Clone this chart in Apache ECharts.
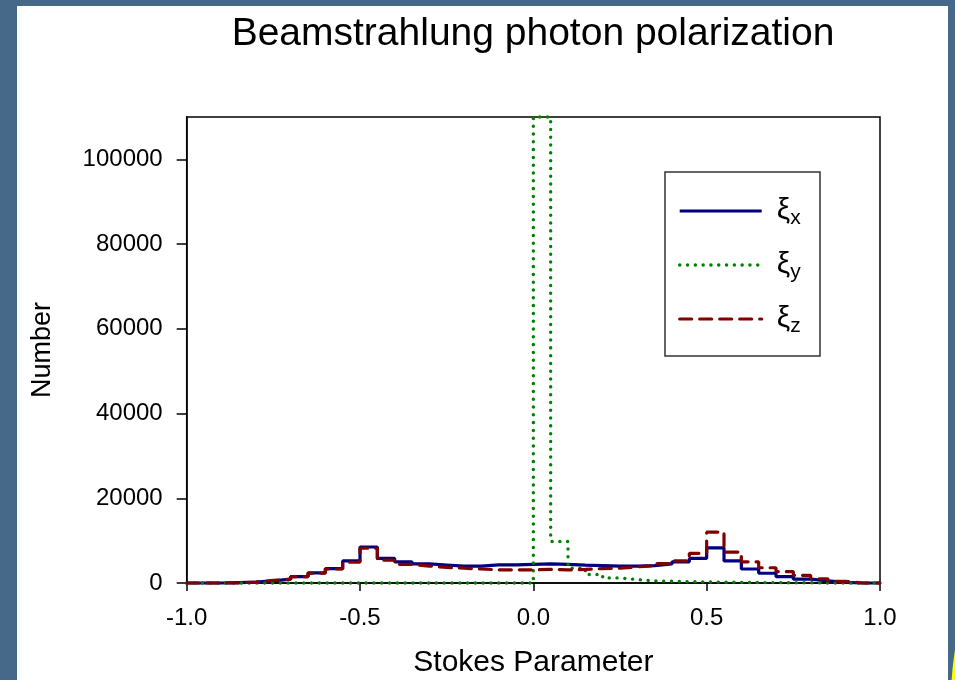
<!DOCTYPE html>
<html><head><meta charset="utf-8">
<script src="https://cdn.jsdelivr.net/npm/echarts@6/dist/echarts.min.js"></script>
<style>html,body{margin:0;padding:0;background:#46698a;overflow:hidden;} #c{width:955px;height:680px;}</style>
</head><body><div id="c"></div>
<script>
// Bin edges of the histogram (Stokes parameter)
const binEdges = [-1.00,-0.95,-0.90,-0.85,-0.80,-0.75,-0.70,-0.65,-0.60,-0.55,
                  -0.50,-0.45,-0.40,-0.35,-0.30,-0.25,-0.20,-0.15,-0.10,-0.05,
                   0.00, 0.05, 0.10, 0.15, 0.20, 0.25, 0.30, 0.35, 0.40, 0.45,
                   0.50, 0.55, 0.60, 0.65, 0.70, 0.75, 0.80, 0.85, 0.90, 0.95, 1.00];
// Counts per bin (40 bins)
const xiX = [0,0,100,200,500,900,1500,2400,3400,5200,
             8500,5800,5000,4500,4250,4000,4000,4300,4300,4400,
             4500,4400,4200,4100,4000,4000,4100,4500,5000,5800,
             8300,5200,3300,2300,1500,900,500,150,0,0];
const xiY = [0,0,0,0,0,0,0,0,0,0,
             0,0,0,0,0,0,0,0,0,0,
             110000,9800,3500,2000,1200,800,500,400,300,250,
             200,150,100,100,50,50,0,0,0,0];
const xiZ = [0,0,50,200,600,900,1500,2300,3300,4900,
             8200,5400,4400,4000,3700,3500,3300,3100,3100,3100,
             3200,3100,3200,3400,3500,3800,4100,4600,5200,7000,
             12000,7300,5000,3600,2700,1800,1000,400,0,0];
const seriesNames = ['ξx','ξy','ξz'];
const seriesColors = ['#000080','#008000','#800000'];
const xTicks = [-1.0,-0.5,0.0,0.5,1.0];
const yTicks = [0,20000,40000,60000,80000,100000];
const titleText = 'Beamstrahlung photon polarization';
const xTitle = 'Stokes Parameter';
const yTitle = 'Number';

function stepData(vals){
  const d = vals.map((v,i)=>[binEdges[i], v]);
  d.push([binEdges[binEdges.length-1], vals[vals.length-1]]);
  return d;
}
const FF = '"Liberation Sans", Arial, sans-serif';
const chart = echarts.init(document.getElementById('c'), null, {renderer:'canvas'});
const lineTypes = [
  {width:3.2, type:'solid'},
  {width:3.4, type:[0.1,7.7], cap:'round'},
  {width:3.2, type:[12,8], cap:'round'}
];
const allVals = [xiX, xiY, xiZ];
chart.setOption({
  backgroundColor:'#46698a',
  animation:false,
  graphic:[
    {type:'rect', z:-10, shape:{x:17,y:6,width:931,height:690}, style:{fill:'#ffffff'}},
    {type:'circle', z:-10, shape:{cx:1265.5,cy:700,r:314.5}, style:{fill:'#ffff00'}},
    {type:'rect', z:1, shape:{x:665,y:172,width:155,height:184}, style:{fill:'#ffffff', stroke:'#333333', lineWidth:1.5}},
    {type:'text', z:5, x:533, y:15, style:{text:titleText, font:'39px '+FF, fill:'#000', textAlign:'center'}}
  ],
  grid:{left:186.7, right:75, top:117, bottom:97, outerBoundsMode:'none', containLabel:false,
        show:true, borderColor:'#000', borderWidth:1.5, backgroundColor:'transparent'},
  legend:{
    orient:'vertical', left:678, top:196, padding:0, itemWidth:82, itemHeight:36, itemGap:21,
    z:10,
    data:seriesNames.map((n,i)=>({name:n, lineStyle:Object.assign({color:seriesColors[i]}, lineTypes[i])})),
    itemStyle:{opacity:0, borderWidth:0},
    formatter:(n)=>'{a|ξ}{b|'+n.slice(1)+'}',
    textStyle:{fontFamily:FF, color:'#000',
      rich:{
        a:{fontSize:30, fontFamily:FF, color:'#000', lineHeight:36, padding:[0,0,0,10]},
        b:{fontSize:21, fontFamily:FF, color:'#000', lineHeight:21, verticalAlign:'bottom'}
      }}
  },
  xAxis:{
    type:'value', min:-1, max:1, interval:0.5,
    name:xTitle, nameLocation:'middle', nameGap:65,
    nameTextStyle:{fontFamily:FF, fontSize:30, color:'#000'},
    axisLine:{show:true, onZero:false, lineStyle:{color:'#000', width:1.5}},
    axisTick:{show:true, inside:false, length:8, lineStyle:{color:'#000', width:1.5}},
    axisLabel:{fontFamily:FF, fontSize:24, color:'#000', margin:23, formatter:(v)=>v.toFixed(1)},
    splitLine:{show:false}
  },
  yAxis:{
    type:'value', min:0, max:110000, interval:20000,
    name:yTitle, nameLocation:'middle', nameGap:131, nameRotate:90,
    nameTextStyle:{fontFamily:FF, fontSize:27, color:'#000'},
    axisLine:{show:true, onZero:false, lineStyle:{color:'#000', width:1.5}},
    axisTick:{show:true, inside:false, length:10, customValues:yTicks, lineStyle:{color:'#000', width:1.5}},
    axisLabel:{fontFamily:FF, fontSize:24, color:'#000', margin:24, customValues:yTicks, formatter:(v)=>String(v)},
    splitLine:{show:false}
  },
  series: seriesNames.map((n,i)=>({
    name:n, type:'line', step:'end', symbol:'none', clip:false,
    data: stepData(allVals[i]),
    lineStyle: Object.assign({color:seriesColors[i]}, lineTypes[i]),
    itemStyle:{color:seriesColors[i]},
    z: 2+i
  }))
});
</script></body></html>
